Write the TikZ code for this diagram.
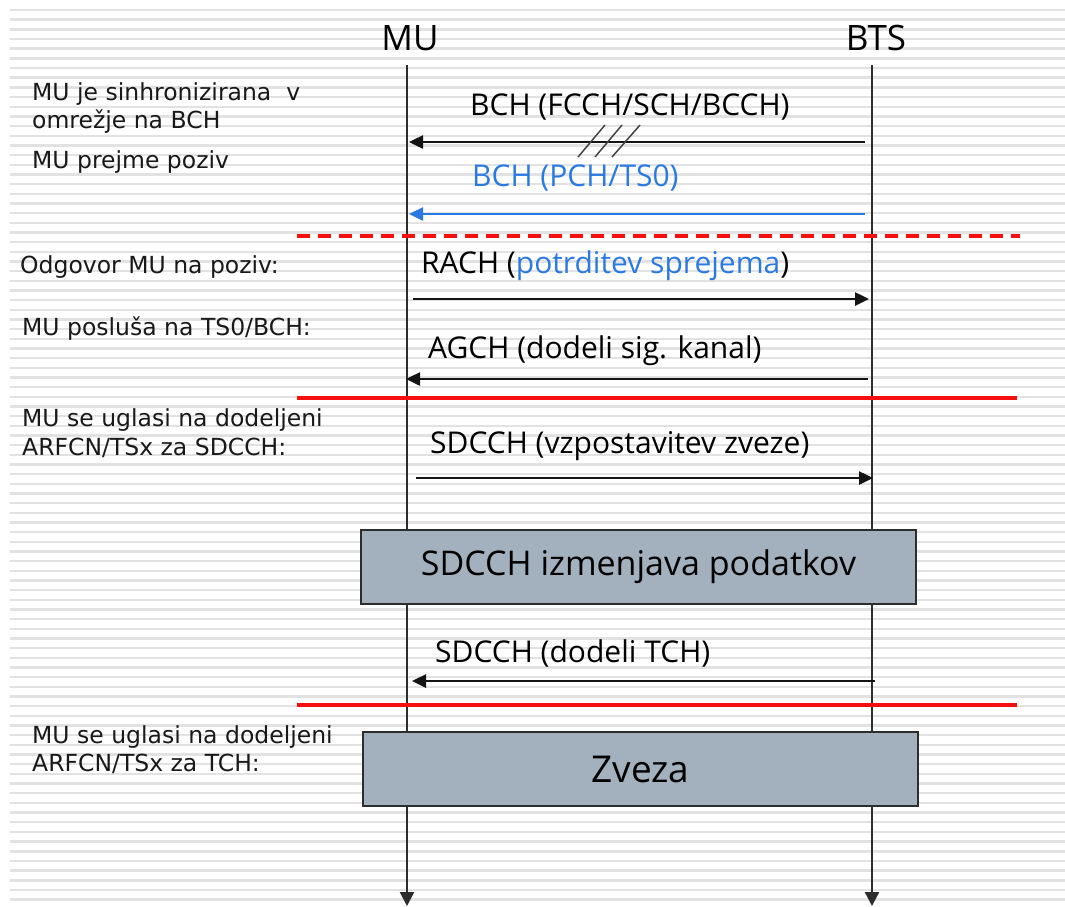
\documentclass[tikz,border=0pt]{standalone}
\usepackage{fontspec}
\setmainfont{DejaVu Sans}
\newfontfamily\msgfont{Open Sans}
\usetikzlibrary{arrows.meta}
\definecolor{stripe}{RGB}{226,226,226}
\definecolor{msgblue}{RGB}{43,122,226}
\definecolor{boxfill}{RGB}{163,176,189}
\definecolor{lifegray}{RGB}{45,45,45}
\definecolor{msgblack}{RGB}{20,20,20}
\definecolor{sepred}{RGB}{245,15,15}
\begin{document}
\begin{tikzpicture}[x=1pt,y=-1pt,
  lifeline/.style={draw=lifegray,line width=2.3pt,-{Triangle[length=14pt,width=14pt]}},
  msg/.style={draw=msgblack,line width=2.5pt,-{Triangle[length=14pt,width=13pt]}},
  bluemsg/.style={msg,draw=msgblue,-{Triangle[length=14pt,width=13pt,fill=msgblue]}},
  slashline/.style={draw=msgblack!80,line width=1.5pt},
  sepline/.style={draw=sepred,line width=3.5pt},
  sepdash/.style={sepline,dash pattern=on 13pt off 8pt},
  side/.style={anchor=base west,inner sep=0pt,font=\fontsize{23.5}{28}\selectfont,text=black!90},
  lbl/.style={anchor=base west,inner sep=0pt,font=\msgfont\fontsize{30}{35}\selectfont,text=black},
  head/.style={anchor=base,inner sep=0pt,font=\msgfont\fontsize{35}{40}\selectfont,text=black},
  pbox/.style={draw=lifegray,line width=2pt,fill=boxfill,minimum width=555pt,minimum height=74pt,inner sep=0pt,font=\msgfont\fontsize{34}{40}\selectfont}
]
\useasboundingbox (0,0) rectangle (1065,906);
\fill[white] (0,0) rectangle (1065,906);
\foreach \i in {0,...,92}
  \fill[stripe] (10,{10+\i*9.67-1.2}) rectangle (1065,{10+\i*9.67+1.2});

% headings
\node[head] (MU) at (410,50) {MU};
\node[head] (BTS) at (876,50) {BTS};

% lifelines
\coordinate (muTop) at (407,65);
\coordinate (muEnd) at (407,906);
\coordinate (btsTop) at (872,65);
\coordinate (btsEnd) at (872,906);
\draw[lifeline] (muTop) -- (muEnd);
\draw[lifeline] (btsTop) -- (btsEnd);

% side texts
\node[side] (t1) at (32,100) {MU je sinhronizirana\ \ v};
\node[side] (t2) at (32,128) {omrežje na BCH};
\node[side] (t3) at (32,168) {MU prejme poziv};
\node[side] (t4) at (20,273) {Odgovor MU na poziv:};
\node[side] (t5) at (22,335) {MU posluša na TS0/BCH:};
\node[side] (t6) at (22,426) {MU se uglasi na dodeljeni};
\node[side] (t7) at (22,455) {ARFCN/TSx za SDCCH:};
\node[side] (t8) at (32,743) {MU se uglasi na dodeljeni};
\node[side] (t9) at (32,771) {ARFCN/TSx za TCH:};

% message 1
\node[lbl] (m1) at (470,115) {BCH (FCCH/SCH/BCCH)};
\coordinate (a1s) at (865,142);
\coordinate (a1e) at (409,142);
\draw[msg] (a1s) -- (a1e);
\coordinate (s1a) at (578,157); \coordinate (s1b) at (605,125);
\coordinate (s2a) at (595,157); \coordinate (s2b) at (622,125);
\coordinate (s3a) at (612,157); \coordinate (s3b) at (640,125);
\draw[slashline] (s1a) -- (s1b);
\draw[slashline] (s2a) -- (s2b);
\draw[slashline] (s3a) -- (s3b);

% message 2
\node[lbl,text=msgblue] (m2) at (472,186) {BCH (PCH/TS0)};
\coordinate (a2s) at (865,214);
\coordinate (a2e) at (409,214);
\draw[bluemsg] (a2s) -- (a2e);

% separator dashed
\coordinate (r1s) at (297,236);
\coordinate (r1e) at (1020,236);
\draw[sepdash] (r1s) -- (r1e);

% message 3
\node[lbl] (m3) at (421,273) {RACH (\textcolor{msgblue}{potrditev sprejema})};
\coordinate (a3s) at (413,299);
\coordinate (a3e) at (869,299);
\draw[msg] (a3s) -- (a3e);

% message 4
\node[lbl] (m4) at (428,358) {AGCH (dodeli sig. kanal)};
\coordinate (a4s) at (868,379);
\coordinate (a4e) at (406,379);
\draw[msg] (a4s) -- (a4e);

% separator
\coordinate (r2s) at (297,398);
\coordinate (r2e) at (1017,398);
\draw[sepline] (r2s) -- (r2e);

% message 5
\node[lbl] (m5) at (430,453) {SDCCH (vzpostavitev zveze)};
\coordinate (a5s) at (416,478);
\coordinate (a5e) at (873,478);
\draw[msg] (a5s) -- (a5e);

% box 1
\node[pbox] (box1) at (638.5,567) {SDCCH izmenjava podatkov};

% message 6
\node[lbl] (m6) at (435,662) {SDCCH (dodeli TCH)};
\coordinate (a6s) at (875,681);
\coordinate (a6e) at (412,681);
\draw[msg] (a6s) -- (a6e);

% separator
\coordinate (r3s) at (297,705);
\coordinate (r3e) at (1017,705);
\draw[sepline] (r3s) -- (r3e);

% box 2
\node[pbox,font=\msgfont\fontsize{37}{42}\selectfont] (box2) at (640.5,769) {Zveza};
\end{tikzpicture}
\end{document}
